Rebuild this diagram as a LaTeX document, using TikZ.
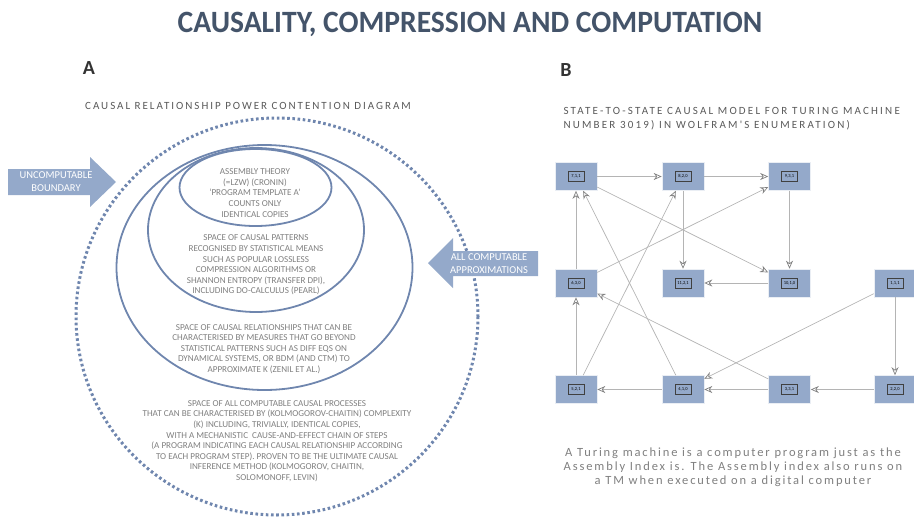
\documentclass[tikz,border=0pt]{standalone}
\usepackage{fontspec}
\setmainfont{Carlito}
\newfontfamily\spaced[LetterSpace=18]{Carlito}
\newfontfamily\spacedwide[LetterSpace=20]{Carlito}
\newfontfamily\spacedcap[LetterSpace=15]{Carlito}
\newfontfamily\titlefont[FakeStretch=0.955]{Carlito}
\usetikzlibrary{arrows.meta}
\definecolor{slate}{HTML}{44546A}
\definecolor{ringblue}{HTML}{6F86AE}
\definecolor{boxblue}{HTML}{94A9CA}
\definecolor{txtgray}{HTML}{7F7F7F}
\definecolor{edgegray}{HTML}{B4B4B4}

\tikzset{
  ring/.style={draw=ringblue,line width=1.8pt},
  dotring/.style={draw=ringblue,line width=3pt,dash pattern=on 2.6pt off 2.6pt},
  ringtext/.style={text=txtgray,align=center,font=\fontsize{9.1}{10.6}\selectfont},
  banner/.style={fill=boxblue},
  bannertext/.style={text=white,align=center,font=\fontsize{10.5}{13}\selectfont},
  state/.style={fill=boxblue,draw=white!80!boxblue,line width=0.6pt,minimum width=42pt,minimum height=28pt,inner sep=0pt},
  lblbox/.style={draw=black!75,line width=0.6pt,inner sep=1.2pt,minimum width=16pt,minimum height=10pt,font=\fontsize{4.5}{5}\selectfont},
  edge/.style={draw=edgegray,line width=0.7pt,-{Stealth[open,length=8pt,width=7pt,color=black!50]}}
}

\begin{document}
\begin{tikzpicture}[x=1pt,y=-1pt]
    \useasboundingbox (0,0) rectangle (914,517);

    % titles
    \node[text=slate,font=\fontsize{31}{33}\titlefont\bfseries] (title) at (470,24) {CAUSALITY, COMPRESSION AND COMPUTATION};
    \node[font=\fontsize{20}{22}\bfseries\selectfont,text=black!80] (partA) at (89,68) {A};
    \node[font=\fontsize{20}{22}\bfseries\selectfont,text=black!80] (partB) at (566,70) {B};
    \node[text=black!65,font=\fontsize{11}{12}\spaced] (subA) at (248,106) {CAUSAL RELATIONSHIP POWER CONTENTION DIAGRAM};
    \node[text=black!65,font=\fontsize{11}{14}\spacedwide,align=left,anchor=west] (subB) at (560,119) {STATE-TO-STATE CAUSAL MODEL FOR TURING MACHINE\\NUMBER 3019) IN WOLFRAM'S ENUMERATION)};

    % A: containment diagram
    \draw[dotring] (277,316.5) ellipse [x radius=201,y radius=198.5];
    \draw[ring] (264.5,267.5) ellipse [x radius=148,y radius=122.5];
    \draw[ring] (256,230) ellipse [x radius=108,y radius=82];
    \draw[ring] (255.5,187.5) ellipse [x radius=76,y radius=38.5];

    \node[ringtext] (assembly) at (255,193) {ASSEMBLY THEORY\\(=LZW) (CRONIN)\\`PROGRAM TEMPLATE A'\\COUNTS ONLY\\IDENTICAL COPIES};
    \node[ringtext] (statistical) at (256,265) {SPACE OF CAUSAL PATTERNS\\RECOGNISED BY STATISTICAL MEANS\\SUCH AS POPULAR LOSSLESS\\COMPRESSION ALGORITHMS OR\\SHANNON ENTROPY (TRANSFER DPI),\\INCLUDING DO-CALCULUS (PEARL)};
    \node[ringtext] (beyond) at (264,349) {SPACE OF CAUSAL RELATIONSHIPS THAT CAN BE\\CHARACTERISED BY MEASURES THAT GO BEYOND\\STATISTICAL PATTERNS SUCH AS DIFF EQS ON\\DYNAMICAL SYSTEMS, OR BDM (AND CTM) TO\\APPROXIMATE K (ZENIL ET AL.)};
    \node[ringtext] (computable) at (277,441) {SPACE OF ALL COMPUTABLE CAUSAL PROCESSES\\THAT CAN BE CHARACTERISED BY (KOLMOGOROV-CHAITIN) COMPLEXITY\\(K) INCLUDING, TRIVIALLY, IDENTICAL COPIES,\\WITH A MECHANISTIC\ \ CAUSE-AND-EFFECT CHAIN OF STEPS\\(A PROGRAM INDICATING EACH CAUSAL RELATIONSHIP ACCORDING\\TO EACH PROGRAM STEP). PROVEN TO BE THE ULTIMATE CAUSAL\\INFERENCE METHOD (KOLMOGOROV, CHAITIN,\\SOLOMONOFF, LEVIN)};

    \fill[banner] (8,169)--(90,169)--(90,157)--(116,182)--(90,207)--(90,195)--(8,195)--cycle;
    \node[bannertext] (uncomp) at (56,182) {UNCOMPUTABLE\\BOUNDARY};
    \fill[banner] (538,251)--(453,251)--(453,238)--(428,263)--(453,288)--(453,276)--(538,276)--cycle;
    \node[bannertext] (approx) at (489,263.5) {ALL COMPUTABLE\\APPROXIMATIONS};

    % B: state graph
    \node[state,label={[lblbox]center:7,1,1}] (s711) at (576,176.5) {};
    \node[state,label={[lblbox]center:8,2,0}] (s820) at (683,176.5) {};
    \node[state,label={[lblbox]center:9,3,1}] (s931) at (789.5,176.5) {};
    \node[state,label={[lblbox]center:6,3,0}] (s630) at (576,283) {};
    \node[state,label={[lblbox]center:11,2,1}] (s1121) at (683,283) {};
    \node[state,label={[lblbox]center:10,1,0}] (s1010) at (789.5,283) {};
    \node[state,label={[lblbox]center:1,1,1}] (s111) at (895,283) {};
    \node[state,label={[lblbox]center:5,2,1}] (s521) at (576,389.5) {};
    \node[state,label={[lblbox]center:4,1,0}] (s410) at (683,389.5) {};
    \node[state,label={[lblbox]center:3,3,1}] (s331) at (789.5,389.5) {};
    \node[state,label={[lblbox]center:2,2,0}] (s220) at (895,389.5) {};

    \draw[edge] (s711)--(s820);
    \draw[edge] (s820)--(s931);
    \draw[edge] (s711)--(s1010);
    \draw[edge] (s820)--(s1121);
    \draw[edge] (s931)--(s1010);
    \draw[edge] (s1010)--(s1121);
    \draw[edge] (s630)--(s711);
    \draw[edge] (s630)--(s931);
    \draw[edge] (s521)--(s630);
    \draw[edge] (s521)--(s820);
    \draw[edge] (s410)--(s711);
    \draw[edge] (s410)--(s521);
    \draw[edge] (s331)--(s410);
    \draw[edge] (s331)--(s630);
    \draw[edge] (s220)--(s331);
    \draw[edge] (s111)--(s220);
    \draw[edge] (s111)--(s410);

    \node[text=txtgray,align=center,font=\fontsize{12.5}{14}\spacedcap] (caption) at (733,467) {A Turing machine is a computer program just as the\\Assembly Index is. The Assembly index also runs on\\a TM when executed on a digital computer};
\end{tikzpicture}
\end{document}
